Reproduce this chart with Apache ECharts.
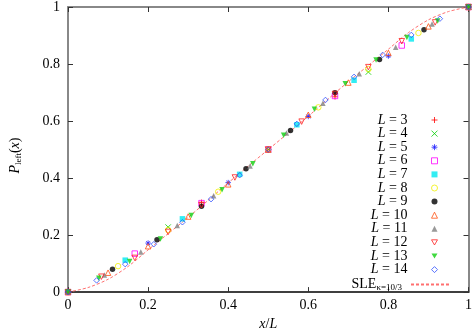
<!DOCTYPE html>
<html lang="en">
<head>
    <meta charset="UTF-8">
    <title>P_left(x)</title>
    <script src="https://cdn.jsdelivr.net/npm/echarts@6/dist/echarts.min.js"></script>
</head>
<body style="margin: 0;">
<div id="main" style="width: 475px; height: 336px;"></div>
</body>
<script>
    // ---- data (y at x = k/L, k = 0..L) ----
    var sizes = [3, 4, 5, 6, 7, 8, 9, 10, 11, 12, 13, 14]
    var yL3 = [0, 0.315, 0.685, 1]
    var yL4 = [0, 0.228, 0.5, 0.772, 1]
    var yL5 = [0, 0.172, 0.384, 0.616, 0.828, 1]
    var yL6 = [0, 0.135, 0.312, 0.5, 0.688, 0.865, 1]
    var yL7 = [0, 0.112, 0.257, 0.413, 0.587, 0.743, 0.888, 1]
    var yL8 = [0, 0.091, 0.218, 0.352, 0.5, 0.648, 0.782, 0.909, 1]
    var yL9 = [0, 0.080, 0.184, 0.301, 0.433, 0.567, 0.699, 0.816, 0.920, 1]
    var yL10 = [0, 0.068, 0.161, 0.265, 0.378, 0.5, 0.622, 0.735, 0.839, 0.932, 1]
    var yL11 = [0, 0.060, 0.141, 0.234, 0.338, 0.442, 0.558, 0.662, 0.766, 0.859, 0.940, 1]
    var yL12 = [0, 0.054, 0.120, 0.211, 0.305, 0.402, 0.5, 0.598, 0.695, 0.789, 0.880, 0.946, 1]
    var yL13 = [0, 0.049, 0.107, 0.186, 0.269, 0.359, 0.450, 0.550, 0.641, 0.731, 0.814, 0.893, 0.951, 1]
    var yL14 = [0, 0.041, 0.098, 0.168, 0.245, 0.326, 0.410, 0.5, 0.590, 0.674, 0.755, 0.832, 0.902, 0.959, 1]
    var allY = [yL3, yL4, yL5, yL6, yL7, yL8, yL9, yL10, yL11, yL12, yL13, yL14]

    // SLE kappa = 10/3 curve
    var sleX = [0, 0.05, 0.1, 0.15, 0.2, 0.25, 0.3, 0.35, 0.4, 0.45, 0.5, 0.55, 0.6, 0.65, 0.7, 0.75, 0.8, 0.85, 0.9, 0.95, 1]
    var sleY = [0, 0.016, 0.045, 0.090, 0.148, 0.205, 0.262, 0.322, 0.383, 0.442, 0.5, 0.558, 0.617, 0.678, 0.738, 0.795, 0.852, 0.910, 0.955, 0.984, 1]

    var tickLabels = ['0', '0.2', '0.4', '0.6', '0.8', '1']

    // gnuplot like point styles
    var colors = ['#ff0000', '#00d000', '#2020ff', '#ff00ff', '#00e8f0', '#f0f000', '#000000', '#ff5010', '#808080', '#ff2020', '#10d010', '#3050ff']
    var downTri = 'path://M0,0L10,0L5,8.66Z'
    var symbols = [
        'path://M0,5L10,5M5,0L5,10',                                   // +
        'path://M0,0L10,10M10,0L0,10',                                 // x
        'path://M0,5L10,5M5,0L5,10M1.5,1.5L8.5,8.5M8.5,1.5L1.5,8.5',   // *
        'rect', 'rect', 'circle', 'circle', 'triangle', 'triangle', downTri, downTri, 'diamond'
    ]
    var kind = ['line', 'line', 'line', 'open', 'fill', 'open', 'fill', 'open', 'fill', 'open', 'fill', 'open']
    var sleColor = '#ff7070'

    var font = 'Liberation Serif'
    var rich = {
        i: {fontFamily: font, fontStyle: 'italic', fontSize: 14, lineHeight: 13, color: '#000'},
        n: {fontFamily: font, fontSize: 14, lineHeight: 13, color: '#000'},
        s: {fontFamily: font, fontSize: 9, lineHeight: 13, color: '#000', padding: [6, 0, 0, 0]}
    }

    var series = []
    var legendItems = []
    for (var s = 0; s < sizes.length; s++) {
        var pts = []
        for (var k = 0; k < allY[s].length; k++) {
            pts.push([k / sizes[s], allY[s][k]])
        }
        var st
        if (kind[s] === 'line') st = {color: colors[s], borderColor: colors[s], borderWidth: 1}
        else if (kind[s] === 'open') st = {color: 'rgba(255,255,255,0)', borderColor: colors[s], borderWidth: 1}
        else st = {color: colors[s], borderWidth: 0}
        series.push({
            name: 'L = ' + sizes[s],
            type: 'scatter',
            symbol: symbols[s],
            symbolSize: 5.5,
            itemStyle: st,
            data: pts,
            z: 3
        })
        legendItems.push({name: 'L = ' + sizes[s], itemStyle: st})
    }
    var slePts = []
    for (var j = 0; j < sleX.length; j++) slePts.push([sleX[j], sleY[j]])
    series.push({
        name: 'SLE',
        type: 'line',
        smooth: 0.3,
        symbol: 'none',
        showSymbol: false,
        lineStyle: {color: sleColor, width: 1, type: [3, 2]},
        itemStyle: {color: sleColor},
        data: slePts,
        z: 2
    })

    var myChart = echarts.init(document.getElementById('main'))
    var axisCommon = {
        type: 'value',
        min: 0,
        max: 1,
        interval: 0.2,
        splitLine: {show: false},
        axisTick: {show: true, inside: true, length: 5, lineStyle: {color: '#333', width: 1}}
    }
    var legendText = {fontFamily: font, fontSize: 14, lineHeight: 13, color: '#000', rich: rich}
    var option = {
        animation: false,
        grid: {left: 64, right: 3, top: 6, bottom: 42},
        legend: [
            {
                orient: 'vertical',
                right: 32,
                top: 108,
                align: 'right',
                itemWidth: 6,
                itemHeight: 6,
                itemGap: -0.4,
                textStyle: Object.assign({padding: [0, 19, 0, 0]}, legendText),
                formatter: function (name) {
                    return '{i|L} {n|= ' + name.split('= ')[1] + '}'
                },
                data: legendItems
            },
            {
                orient: 'vertical',
                right: 20,
                top: 272,
                align: 'right',
                itemWidth: 38,
                itemHeight: 7,
                textStyle: Object.assign({padding: [0, 4, 0, 0]}, legendText),
                formatter: function () { return '{n|SLE}{s|κ=10/3}' },
                data: [{name: 'SLE', itemStyle: {opacity: 0}}]
            }
        ],
        xAxis: [
            Object.assign({}, axisCommon, {
                position: 'bottom',
                name: '{i|x}{n|/}{i|L}',
                nameLocation: 'middle',
                nameGap: 25,
                nameTextStyle: {rich: rich},
                axisLine: {show: true, onZero: false, lineStyle: {color: '#000', width: 1.5}},
                axisLabel: {
                    margin: 6, fontFamily: font, fontSize: 14, color: '#000',
                    formatter: function (v) { return tickLabels[Math.round(v / 0.2)] }
                }
            }),
            Object.assign({}, axisCommon, {
                position: 'top',
                axisLine: {show: true, onZero: false, lineStyle: {color: '#888', width: 2}},
                axisLabel: {show: false}
            })
        ],
        yAxis: [
            Object.assign({}, axisCommon, {
                position: 'left',
                name: '{i|P}{s|left}{n|(}{i|x}{n|)}',
                nameLocation: 'middle',
                nameGap: 46,
                nameRotate: 90,
                nameTextStyle: {rich: rich, padding: [0, 12, 0, 0]},
                axisLine: {show: true, onZero: false, lineStyle: {color: '#888', width: 2}},
                axisLabel: {
                    margin: 8, fontFamily: font, fontSize: 14, color: '#000',
                    formatter: function (v) { return tickLabels[Math.round(v / 0.2)] }
                }
            }),
            Object.assign({}, axisCommon, {
                position: 'right',
                axisLine: {show: true, onZero: false, lineStyle: {color: '#888', width: 2}},
                axisLabel: {show: false}
            })
        ],
        series: series
    }
    myChart.setOption(option)
</script>
</html>
